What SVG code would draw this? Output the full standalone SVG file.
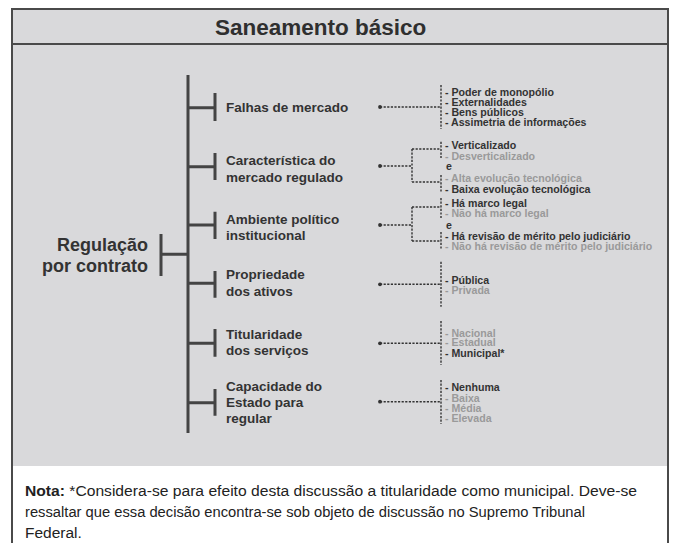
<svg xmlns="http://www.w3.org/2000/svg" width="676" height="543" viewBox="0 0 676 543">
<style>
.frame{fill:none;stroke:#4a4a4a;stroke-width:2}
.tree{fill:none;stroke:#444;stroke-width:3}
.dash{fill:none;stroke:#333;stroke-width:1.4;stroke-dasharray:2.2 1.4}
.title{font-family:"Liberation Sans",Arial,sans-serif;font-weight:bold;font-size:22.5px;fill:#2f2f2f}
.root{font-family:"Liberation Sans",Arial,sans-serif;font-weight:bold;font-size:18px;fill:#333}
.lbl{font-family:"Liberation Sans",Arial,sans-serif;font-weight:bold;font-size:13.5px;fill:#333}
.it{font-family:"Liberation Sans",Arial,sans-serif;font-weight:bold;font-size:10.6px;fill:#333}
.g{fill:#9a9a9a}
.note{font-family:"Liberation Sans",Arial,sans-serif;font-size:15.5px;fill:#222}
.dot{fill:#333}
</style>
<rect x="0" y="0" width="676" height="543" fill="#ffffff"/>
<rect x="12" y="9" width="656" height="457" fill="#d9d9db"/>
<path class="frame" d="M12,543 V9 H668 V543"/>
<line class="frame" x1="12" y1="44" x2="668" y2="44"/>
<text class="title" x="215" y="34.5">Saneamento básico</text>

<g id="connectors">
<path class="tree" d="M188,75 V433"/>
<path class="tree" d="M188,107.7 H215 M215,93 V121"/>
<path class="tree" d="M188,166.7 H215 M215,153 V180"/>
<path class="tree" d="M188,225 H215 M215,211.7 V239"/>
<path class="tree" d="M188,283.3 H215 M215,271 V297.7"/>
<path class="tree" d="M188,343.3 H215 M215,329 V356.7"/>
<path class="tree" d="M188,402.7 H215 M215,389 V415.7"/>
<path class="tree" d="M161,254.3 H188 M161,234 V276"/>

<path class="dash" d="M380,107 H441 M441,85 V129"/>
<path class="dash" d="M380,166 H412 M412,149 V182 M412,149 H441 M412,182 H441 M441,141.7 V158 M441,175 V191.7"/>
<path class="dash" d="M380,225 H412 M412,207 V241 M412,207 H441 M412,241 H441 M441,198 V218 M441,232 V250"/>
<path class="dash" d="M380,284.3 H441 M441,261.7 V306.7"/>
<path class="dash" d="M380,343.3 H441 M441,321 V365"/>
<path class="dash" d="M380,401.7 H441 M441,380 V424"/>
<circle class="dot" cx="380" cy="107" r="1.9"/>
<circle class="dot" cx="380" cy="166" r="1.9"/>
<circle class="dot" cx="380" cy="225" r="1.9"/>
<circle class="dot" cx="380" cy="284.3" r="1.9"/>
<circle class="dot" cx="380" cy="343.3" r="1.9"/>
<circle class="dot" cx="380" cy="401.7" r="1.9"/>
</g>

<g id="root">
<text class="root" text-anchor="end" x="148" y="250.7">Regulação</text>
<text class="root" text-anchor="end" x="148" y="272.3">por contrato</text>
</g>

<g id="falhas">
<text class="lbl" x="226" y="112.3">Falhas de mercado</text>
<text class="it" x="445" y="95.5">- Poder de monopólio</text>
<text class="it" x="445" y="105.5">- Externalidades</text>
<text class="it" x="445" y="115.8">- Bens públicos</text>
<text class="it" x="445" y="126">- Assimetria de informações</text>
</g>

<g id="caracteristica">
<text class="lbl" x="226" y="165">Característica do</text>
<text class="lbl" x="226" y="181.5">mercado regulado</text>
<text class="it" x="445" y="148.8">- Verticalizado</text>
<text class="it g" x="445" y="159.5">- Desverticalizado</text>
<text class="it" x="446" y="170.3">e</text>
<text class="it g" x="445" y="182">- Alta evolução tecnológica</text>
<text class="it" x="445" y="192.8">- Baixa evolução tecnológica</text>
</g>

<g id="ambiente">
<text class="lbl" x="226" y="224">Ambiente político</text>
<text class="lbl" x="226" y="240">institucional</text>
<text class="it" x="445" y="206.5">- Há marco legal</text>
<text class="it g" x="445" y="217">- Não há marco legal</text>
<text class="it" x="446" y="228.8">e</text>
<text class="it" x="445" y="239.8">- Há revisão de mérito pelo judiciário</text>
<text class="it g" x="445" y="249.8">- Não há revisão de mérito pelo judiciário</text>
</g>

<g id="propriedade">
<text class="lbl" x="226" y="279.3">Propriedade</text>
<text class="lbl" x="226" y="295.7">dos ativos</text>
<text class="it" x="445" y="283.8">- Pública</text>
<text class="it g" x="445" y="293.8">- Privada</text>
</g>

<g id="titularidade">
<text class="lbl" x="226" y="339">Titularidade</text>
<text class="lbl" x="226" y="355">dos serviços</text>
<text class="it g" x="445" y="336.5">- Nacional</text>
<text class="it g" x="445" y="346">- Estadual</text>
<text class="it" x="445" y="357">- Municipal*</text>
</g>

<g id="capacidade">
<text class="lbl" x="226" y="391">Capacidade do</text>
<text class="lbl" x="226" y="407.3">Estado para</text>
<text class="lbl" x="226" y="423.3">regular</text>
<text class="it" x="445" y="391">- Nenhuma</text>
<text class="it g" x="445" y="401.5">- Baixa</text>
<text class="it g" x="445" y="411.5">- Média</text>
<text class="it g" x="445" y="422">- Elevada</text>
</g>

<g id="nota">
<text class="note" x="25" y="496" textLength="612" lengthAdjust="spacingAndGlyphs"><tspan font-weight="bold">Nota:</tspan> *Considera-se para efeito desta discussão a titularidade como municipal. Deve-se</text>
<text class="note" x="25" y="517" textLength="560" lengthAdjust="spacingAndGlyphs">ressaltar que essa decisão encontra-se sob objeto de discussão no Supremo Tribunal</text>
<text class="note" x="25" y="538">Federal.</text>
</g>
</svg>
